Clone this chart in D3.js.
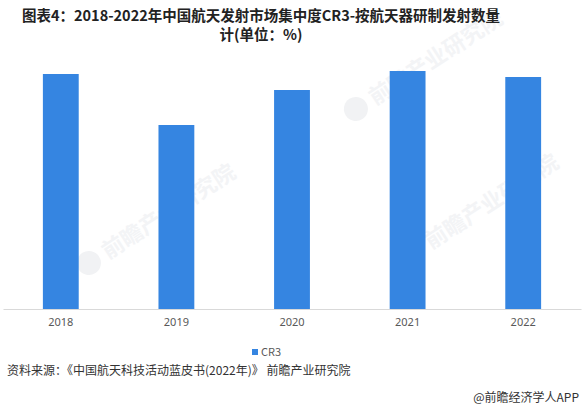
<!DOCTYPE html>
<html>
<head>
<meta charset="utf-8">
<script src="https://cdn.jsdelivr.net/npm/d3@7"></script>
<style>
  body { margin: 0; background: #fff; }
  svg { display: block; font-family: "Noto Sans CJK SC", "Noto Sans", sans-serif; }
</style>
</head>
<body>
<svg id="chart" width="582" height="410"></svg>
<script>
// chart data
const years = ["2018", "2019", "2020", "2021", "2022"];
const cr3 = [94.0, 73.6, 87.6, 95.2, 92.8];
const seriesName = "CR3";
const titleLines = ["图表4：2018-2022年中国航天发射市场集中度CR3-按航天器研制发射数量", "计(单位：%)"];
const sourceText = "资料来源：《中国航天科技活动蓝皮书(2022年)》 前瞻产业研究院";
const brandText = "@前瞻经济学人APP";

const svg = d3.select("#chart");
const margin = { top: 59, right: 1, bottom: 101, left: 3 };
const width = 582 - margin.left - margin.right;
const height = 410 - margin.top - margin.bottom;

// faint watermarks
const marks = [[105, 262], [428, 252], [372, 108]];
marks.forEach(([x, y]) => {
    const g = svg.append("g").attr("transform", `translate(${x},${y}) rotate(-33)`);
    g.append("circle").attr("cx", -14).attr("cy", -8).attr("r", 12).attr("fill", "#f1f2f4");
    g.append("text").attr("x", 4).attr("y", 0)
        .attr("font-size", 22).attr("font-weight", "bold")
        .attr("fill", "#f3f4f6").text("前瞻产业研究院");
});

const plot = svg.append("g").attr("transform", `translate(${margin.left},${margin.top})`);

const x = d3.scaleBand().domain(years).range([0, width]).paddingInner(0.69).paddingOuter(0.345);
const y = d3.scaleLinear().domain([0, 100]).range([height, 0]);

plot.selectAll("rect.bar")
    .data(cr3)
    .join("rect")
    .attr("class", "bar")
    .attr("x", (d, i) => x(years[i]))
    .attr("y", d => y(d))
    .attr("width", x.bandwidth())
    .attr("height", d => height - y(d))
    .attr("fill", "#3585e1");

// x axis
const xAxis = plot.append("g")
    .attr("transform", `translate(0,${height})`)
    .call(d3.axisBottom(x).tickSize(0).tickPadding(9));
xAxis.select(".domain").attr("stroke", "#d9d9d9");
xAxis.selectAll("text").attr("font-size", 11).attr("fill", "#595959")
    .attr("font-family", "\"Noto Sans\", sans-serif");

// legend
const legend = svg.append("g").attr("transform", "translate(252,352)");
legend.append("rect").attr("x", 0).attr("y", -3).attr("width", 6).attr("height", 6).attr("fill", "#3585e1");
legend.append("text").attr("x", 9).attr("y", 0).attr("dy", "0.35em")
    .attr("font-size", 11).attr("fill", "#595959").text(seriesName);

// title
svg.selectAll("text.title")
    .data(titleLines)
    .join("text")
    .attr("class", "title")
    .attr("x", 261)
    .attr("y", (d, i) => 21 + i * 19)
    .attr("text-anchor", "middle")
    .attr("font-size", 14.5)
    .attr("font-weight", "bold")
    .attr("fill", "#222")
    .text(d => d);

// source + brand
svg.append("text").attr("x", 7).attr("y", 375)
    .attr("font-size", 12).attr("fill", "#333").text(sourceText);
svg.append("text").attr("x", 579).attr("y", 402).attr("text-anchor", "end")
    .attr("font-size", 12).attr("fill", "#333").text(brandText);
</script>
</body>
</html>
